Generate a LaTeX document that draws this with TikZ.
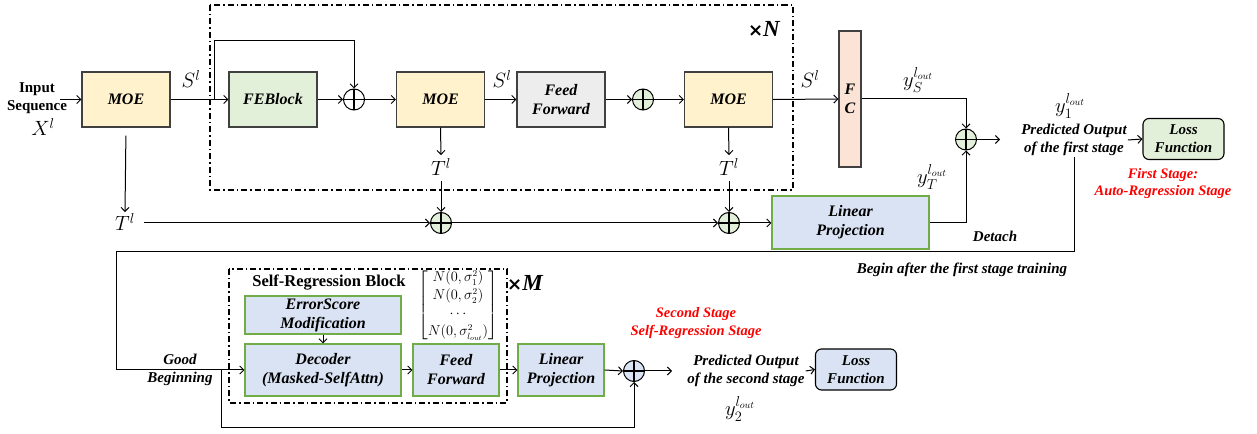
\documentclass[tikz,border=0pt]{standalone}
\usepackage{amsmath}
\usepackage{fontspec}
\setmainfont{Liberation Serif}
\newfontfamily\crossfont{DejaVu Sans}
\usetikzlibrary{arrows.meta,calc}

\definecolor{edgegray}{HTML}{404040}
\definecolor{moefill}{HTML}{FFF2CC}
\definecolor{fefill}{HTML}{E2F0D9}
\definecolor{fffill}{HTML}{EDEDED}
\definecolor{fcfill}{HTML}{FBE3D6}
\definecolor{lpfill}{HTML}{DAE3F3}
\definecolor{lpedge}{HTML}{70AD47}
\definecolor{sumgreen}{HTML}{E2F0D9}
\definecolor{stagered}{HTML}{FF0000}

\newcommand\boxfont{\fontsize{16bp}{19bp}\selectfont\bfseries\itshape}
\newcommand\notefont{\fontsize{15bp}{18bp}\selectfont\bfseries\itshape}
\newcommand\mathfont{\fontsize{20bp}{23bp}\selectfont}
\newcommand\repfont{\fontsize{23bp}{25bp}\selectfont\bfseries\itshape}
\newcommand\repcross{{\crossfont\bfseries\upshape\fontsize{18bp}{20bp}\selectfont ×}}

\tikzset{
  arr/.style={-{Straight Barb[length=4bp,width=8bp]}, line width=1bp},
  wire/.style={line width=1bp},
  blockbox/.style={draw=edgegray, line width=1.1bp, minimum width=88bp, minimum height=55bp,
    inner sep=1bp, align=center, font=\boxfont},
  moebox/.style={blockbox, fill=moefill},
  febox/.style={blockbox, fill=fefill},
  ffbox/.style={blockbox, fill=fffill},
  fcbox/.style={blockbox, fill=fcfill, minimum width=22bp, minimum height=136bp},
  lpbox/.style={blockbox, draw=lpedge, fill=lpfill},
  lossbox/.style={draw=black, line width=1.1bp, rounded corners=6bp, minimum width=81bp,
    minimum height=41bp, inner sep=1bp, align=center, font=\notefont},
  sumnode/.style={circle, draw=black, line width=1bp, minimum size=21bp, inner sep=0pt,
    path picture={\draw[line width=1.4bp]
      (path picture bounding box.north) -- (path picture bounding box.south)
      (path picture bounding box.west) -- (path picture bounding box.east);}},
  mlabel/.style={inner sep=1bp, font=\mathfont},
  note/.style={inner sep=1bp, align=center, font=\notefont},
  rednote/.style={inner sep=1bp, align=center, text=stagered,
    font=\fontsize{14.5bp}{17.5bp}\selectfont\bfseries\itshape},
  dashdot/.style={line width=1.5bp, dash pattern=on 6bp off 3bp on 1.5bp off 3bp},
}

\begin{document}
\begin{tikzpicture}[x=1bp,y=-1bp]
\useasboundingbox (0,0) rectangle (1257,434);

% ---------------- first stage ----------------
\draw[dashdot] (210,5) rectangle (793,190);
\node[inner sep=0pt, font=\repfont] (xN) at (764,29) {\repcross N};

\node[inner sep=1bp, align=center, font=\fontsize{15bp}{18bp}\selectfont\bfseries] (inp) at (37,98) {Input\\Sequence};
\node[mlabel] (xin) at (43,127) {$X^l$};
\coordinate (inA) at (60,99.5);

\node[moebox] (moeA) at (126,99.5) {MOE};
\node[febox]  (feb)  at (273,99.5) {FEBlock};
\node[sumnode, fill=white] (sA) at (354,99.5) {};
\node[moebox] (moeB) at (440.5,99.5) {MOE};
\node[ffbox]  (ffA)  at (561,99.5) {Feed\\Forward};
\node[sumnode, fill=sumgreen] (sB) at (643,99.5) {};
\node[moebox] (moeC) at (728.5,99.5) {MOE};
\node[fcbox]  (fc)   at (850,99) {F\\C};
\node[sumnode, fill=sumgreen] (sR) at (966,139.5) {};

\node[mlabel] (sl1) at (191,79) {$S^l$};
\node[mlabel] (sl2) at (502,79) {$S^l$};
\node[mlabel] (sl3) at (810,79) {$S^l$};
\node[mlabel] (ys) at (918,80) {$y_S^{l_{out}}$};
\node[mlabel] (yt) at (932,177) {$y_T^{l_{out}}$};

\node[mlabel] (tA) at (125,222) {$T^l$};
\node[mlabel] (tB) at (441,167) {$T^l$};
\node[mlabel] (tC) at (729,167) {$T^l$};
\node[sumnode, fill=sumgreen] (sC) at (441,223) {};
\node[sumnode, fill=sumgreen] (sD) at (729,223) {};
\node[lpbox, minimum width=157bp, minimum height=53bp] (lpA) at (850.5,222.5) {Linear\\Projection};

\coordinate (skipA) at (214,99.5);
\coordinate (skipB) at (214,41);
\coordinate (outA) at (1000,139.5);

\draw[arr] (inA) -- (moeA.west);
\draw[arr] (moeA.east) -- (feb.west);
\draw[arr] (skipA) -- (skipB) -| (sA.north);
\draw[arr] (feb.east) -- (sA.west);
\draw[arr] (sA.east) -- (moeB.west);
\draw[arr] (moeB.east) -- (ffA.west);
\draw[arr] (ffA.east) -- (sB.west);
\draw[arr] (sB.east) -- (moeC.west);
\draw[arr] (moeC.east) -- (fc.west);
\draw[arr] (fc.east) -| (sR.north);
\draw[arr] (lpA.east) -| (sR.south);
\draw[arr] (sR.east) -- (outA);

\draw[arr, shorten <=8bp] (moeA.south) -- (tA.north);
\draw[arr] (moeB.south) -- ($(tB.north)+(0,-2)$);
\draw[arr] (moeC.south) -- ($(tC.north)+(0,-2)$);
\draw[arr, shorten <=4bp] (tB.south) -- (sC.north);
\draw[arr, shorten <=4bp] (tC.south) -- (sD.north);
\draw[arr, shorten <=8bp] (tA.east |- sC.west) -- (sC.west);
\draw[arr] (sC.east) -- (sD.west);
\draw[arr] (sD.east) -- (sD.east -| lpA.west);

\node[mlabel] (y1) at (1070,106) {$y_1^{l_{out}}$};
\node[note] (predA) at (1074,140) {Predicted Output\\of the first stage};
\node[lossbox, fill=fefill] (lossA) at (1183.5,139) {Loss\\Function};
\draw[arr] (predA.east) -- (lossA.west);
\node[rednote] (stA) at (1163,183.5) {First Stage:\\Auto-Regression Stage};
\node[note] (det) at (995,236) {Detach};
\node[note] (begin) at (962,270) {Begin after the first stage training};

% ---------------- second stage ----------------
\draw[dashdot] (229,269) rectangle (507,403);
\node[inner sep=0pt, font=\repfont] (xM) at (525,283) {\repcross M};
\node[inner sep=0pt, font=\fontsize{16.5bp}{19bp}\selectfont\bfseries] (srb) at (329,283) {Self-Regression Block};
\node[inner sep=0pt, font=\fontsize{13.5bp}{16bp}\selectfont] (sig) at (458,305)
  {\renewcommand\arraystretch{1.12}$\begin{bmatrix} N(0,\sigma_1^2)\\ N(0,\sigma_2^2)\\ \cdots\\ N(0,\sigma_{l_{out}}^2)\end{bmatrix}$};

\node[lpbox, minimum width=156bp, minimum height=38bp] (esm) at (323,315) {ErrorScore\\Modification};
\node[lpbox, minimum width=156bp, minimum height=52bp] (dec) at (323,370) {Decoder\\(Masked-SelfAttn)};
\node[lpbox, minimum width=86bp, minimum height=52bp] (ffB) at (456,370) {Feed\\Forward};
\node[lpbox, minimum width=86bp, minimum height=52bp] (lpB) at (561,370) {Linear\\Projection};
\node[sumnode, fill=lpfill] (sL) at (634,371) {};
\coordinate (outB) at (672,371);

\node[note] (gb) at (180,370) {Good\\Beginning};
\node[rednote] (stB) at (696,323) {Second Stage\\Self-Regression Stage};
\node[note] (predB) at (746,371) {Predicted Output\\of the second stage};
\node[lossbox, fill=lpfill] (lossB) at (856,369.5) {Loss\\Function};
\node[mlabel] (y2) at (740,409) {$y_2^{l_{out}}$};

\coordinate (fbA) at (1074,252);
\coordinate (fbB) at (116,252);
\coordinate (fbC) at (116,370);
\coordinate (gbA) at (221,370);
\coordinate (gbB) at (221,428);

\draw[wire] (predA.south) -- (fbA) -- (fbB) -- (fbC);
\draw[arr] (fbC) -- (dec.west);
\draw[arr] (gbA) -- (gbB) -| (sL.south);
\draw[arr] (esm.south) -- (dec.north);
\draw[arr] (dec.east) -- (ffB.west);
\draw[arr] (ffB.east) -- (lpB.west);
\draw[arr] (lpB.east) -- (sL.west);
\draw[arr] (sL.east) -- (outB);
\draw[arr] (predB.east) -- (lossB.west);
\end{tikzpicture}
\end{document}
